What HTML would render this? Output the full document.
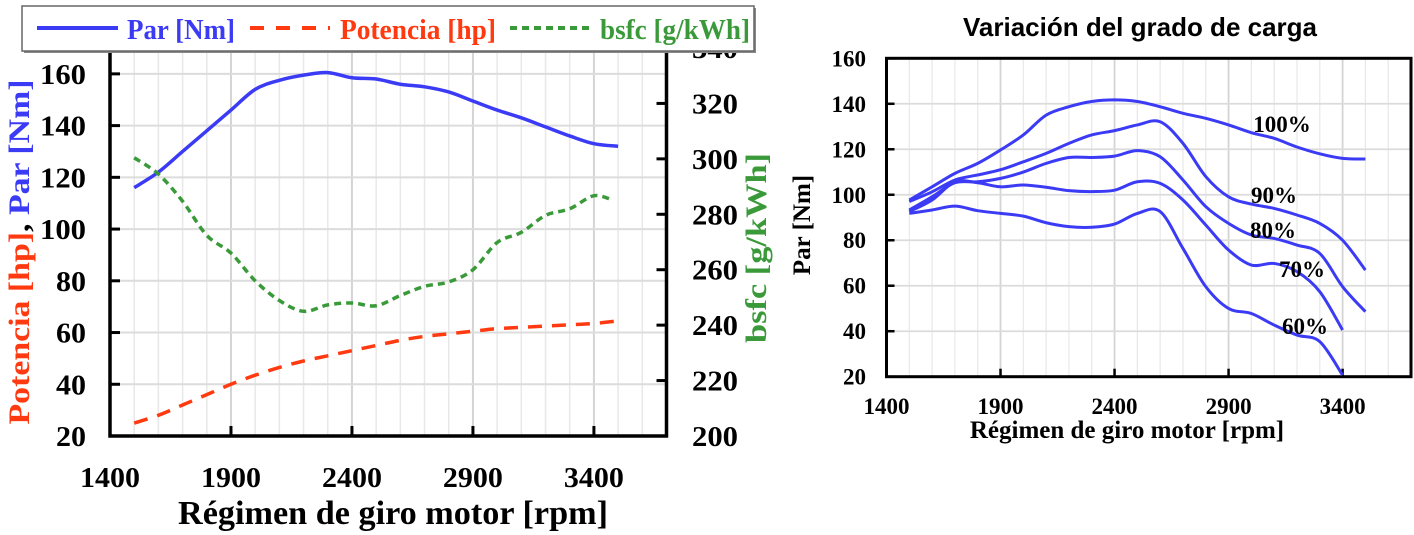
<!DOCTYPE html>
<html><head><meta charset="utf-8"><style>
body{margin:0;background:#fff;}
svg{display:block;}
text{font-family:"Liberation Serif",serif;font-weight:bold;}
</style></head><body>
<svg id="svg" width="1414" height="535" viewBox="0 0 1414 535"></svg>
<script>
// Left chart data
const rpmL = [1500,1600,1700,1800,1900,2000,2100,2200,2300,2400,2500,2600,2700,2800,2900,3000,3100,3200,3300,3400,3500];
const parL = [116,122,130,138,146,154,157.5,159.5,160.5,158.5,158,156,155,153,149.5,146,143,139.5,136,133,132];
const potL = [25,28,32,36,40,43.5,46.5,49,51,53,55,57,58.5,59.5,60.5,61.5,62,62.5,63,63.5,64.5];
const rpmB = [1500,1600,1700,1800,1900,2000,2100,2200,2300,2400,2500,2600,2700,2800,2900,3000,3100,3200,3300,3400,3480];
const bsfcL = [300.4,294.5,284.7,272.4,266,256,248.9,245,247.3,248,247,250.7,254,255.6,260,269.8,273.5,279.6,282,286.7,285];
const xTicksL = [1400,1900,2400,2900,3400];
const yTicksL = [20,40,60,80,100,120,140,160];
const y2TicksL = [200,220,240,260,280,300,320,340];
// Right chart data
const rpmR = [1500,1600,1700,1800,1900,2000,2100,2200,2300,2400,2500,2600,2700,2800,2900,3000,3100,3200,3300,3400,3500];
const c100 = [97.7,103.5,109.4,113.8,119.7,126.3,135,138.7,141,141.7,141,138.7,135.8,133.6,130.7,127.3,124.8,121,118,116,115.7];
const c90 = [97,101.3,106.5,108.7,111,114.5,118.2,122.6,126.3,128.2,130.7,132.1,122.6,108,99.1,95.9,94,91.1,87.4,80,66.9];
const c80 = [93.3,99.1,105.3,105.7,107.2,110,113.8,116.4,116.4,117,119.4,116.7,106.5,94.8,87.4,82.3,80.8,77.9,74.2,59.6,48.6];
const c70 = [92.6,97.7,105.7,105.3,103.5,104.3,103.3,101.8,101.4,102,105.7,105,97.7,86.7,75.7,69.1,69.8,66.2,57.4,40.5];
const c60 = [91.8,93.3,95,93,91.8,90.6,87.7,86,85.7,87.1,91.8,92.6,76.4,59.6,50,47.8,42.7,38.3,35.4,20.7];
const loadLabels = ['100%','90%','80%','70%','60%'];
const xTicksR = [1400,1900,2400,2900,3400];
const yTicksR = [20,40,60,80,100,120,140,160];

const NS='http://www.w3.org/2000/svg';
const svg=document.getElementById('svg');
function mk(tag,attrs,parent){const e=document.createElementNS(NS,tag);for(const k in attrs)e.setAttribute(k,attrs[k]);(parent||svg).appendChild(e);return e;}
function smooth(pts){let d='M'+pts[0][0]+','+pts[0][1];for(let i=0;i<pts.length-1;i++){const p0=pts[i-1]||pts[i],p1=pts[i],p2=pts[i+1],p3=pts[i+2]||p2;const c1=[p1[0]+(p2[0]-p0[0])/6,p1[1]+(p2[1]-p0[1])/6],c2=[p2[0]-(p3[0]-p1[0])/6,p2[1]-(p3[1]-p1[1])/6];d+=' C'+c1+' '+c2+' '+p2;}return d;}

// ===== Left chart =====
const L={x0:110,x1:666.5,y0:436,y1:48};
const lx=r=>L.x0+(r-1400)/2300*(L.x1-L.x0);
const ly=v=>L.y0-(v-20)/150*(L.y0-L.y1);
const ly2=v=>L.y0-(v-200)/140*(L.y0-L.y1);
for(let r=1500;r<3700;r+=100){const l=mk('line',{x1:lx(r),x2:lx(r),y1:L.y1,y2:L.y0,stroke:(r%500==400)?'#d4d4d4':'#e8e8e8','stroke-width':(r%500==400)?2:1.5});
}
yTicksL.forEach(v=>{const l=mk('line',{x1:L.x0,x2:L.x1,y1:ly(v),y2:ly(v),stroke:'#dcdcdc','stroke-width':2});

const t=mk('text',{x:86,y:ly(v)+10,'text-anchor':'end','font-size':28,textLength:46,lengthAdjust:'spacingAndGlyphs'});t.textContent=v;
if(v<100){t.setAttribute('textLength',30);}

mk('line',{x1:L.x0,x2:L.x0+10,y1:ly(v),y2:ly(v),stroke:'#000','stroke-width':3});});
y2TicksL.forEach(v=>{const t=mk('text',{x:692,y:ly2(v)+10,'font-size':28,textLength:46,lengthAdjust:'spacingAndGlyphs'});t.textContent=v;

mk('line',{x1:L.x1-10,x2:L.x1,y1:ly2(v),y2:ly2(v),stroke:'#000','stroke-width':3});});
xTicksL.forEach(v=>{const t=mk('text',{x:lx(v),y:487,'text-anchor':'middle','font-size':28,textLength:60,lengthAdjust:'spacingAndGlyphs'});t.textContent=v;

mk('line',{x1:lx(v),x2:lx(v),y1:L.y0-10,y2:L.y0,stroke:'#000','stroke-width':3});});
mk('path',{d:`M${L.x0},${L.y1} V${L.y0} H${L.x1} V${L.y1}`,fill:'none',stroke:'#000','stroke-width':3.5,});
let p=mk('path',{d:smooth(rpmL.map((r,i)=>[lx(r),ly(parL[i])])),fill:'none',stroke:'#3b3bf5','stroke-width':3.5});

p=mk('path',{d:smooth(rpmL.map((r,i)=>[lx(r),ly(potL[i])])),fill:'none',stroke:'#ff3a10','stroke-width':3.5,'stroke-dasharray':'14,10'});

p=mk('path',{d:smooth(rpmB.map((r,i)=>[lx(r),ly2(bsfcL[i])])),fill:'none',stroke:'#3a9a3a','stroke-width':3.5,'stroke-dasharray':'7,5'});

// legend
mk('rect',{x:24,y:8,width:732,height:45,fill:'#888',});
mk('rect',{x:22,y:6,width:732,height:45,fill:'#fff',stroke:'#666','stroke-width':1.5,});
mk('line',{x1:37,x2:118,y1:28,y2:28,stroke:'#3b3bf5','stroke-width':4});
mk('text',{x:127,y:39,'font-size':28,fill:'#3b3bf5',textLength:108,lengthAdjust:'spacingAndGlyphs',}).textContent='Par [Nm]';
mk('line',{x1:250,x2:330,y1:28,y2:28,stroke:'#ff3a10','stroke-width':4,'stroke-dasharray':'14,12'});
mk('text',{x:340,y:39,'font-size':28,fill:'#ff3a10',textLength:156,lengthAdjust:'spacingAndGlyphs',}).textContent='Potencia [hp]';
mk('line',{x1:510,x2:592,y1:28,y2:28,stroke:'#3a9a3a','stroke-width':4,'stroke-dasharray':'7,5'});
mk('text',{x:600,y:39,'font-size':28,fill:'#3a9a3a',textLength:150,lengthAdjust:'spacingAndGlyphs',}).textContent='bsfc [g/kWh]';
// titles
mk('text',{x:393,y:524,'text-anchor':'middle','font-size':34,textLength:430,lengthAdjust:'spacingAndGlyphs',}).textContent='Régimen de giro motor [rpm]';
const yt=mk('text',{x:0,y:0,'text-anchor':'middle','font-size':30,textLength:345,lengthAdjust:'spacingAndGlyphs',transform:'translate(29,252) rotate(-90)',});
const s1=mk('tspan',{fill:'#ff3a10'},yt);s1.textContent='Potencia [hp]';
const s2=mk('tspan',{fill:'#000'},yt);s2.textContent=', ';
const s3=mk('tspan',{fill:'#3b3bf5'},yt);s3.textContent='Par [Nm]';
mk('text',{x:0,y:0,'text-anchor':'middle','font-size':30,fill:'#3a9a3a',textLength:190,lengthAdjust:'spacingAndGlyphs',transform:'translate(766,248) rotate(-90)',}).textContent='bsfc [g/kWh]';

// ===== Right chart =====
const R={x0:886.5,x1:1411,y0:376.7,y1:58.3};
const rx=r=>R.x0+(r-1400)/2300*(R.x1-R.x0);
const ry=v=>R.y0-(v-20)/140*(R.y0-R.y1);
for(let r=1500;r<3700;r+=100){const l=mk('line',{x1:rx(r),x2:rx(r),y1:R.y1,y2:R.y0,stroke:(r%500==400)?'#d4d4d4':'#e8e8e8','stroke-width':(r%500==400)?1.8:1.2});
}
yTicksR.forEach(v=>{const l=mk('line',{x1:R.x0,x2:R.x1,y1:ry(v),y2:ry(v),stroke:'#dcdcdc','stroke-width':1.8});

const t=mk('text',{x:866,y:ry(v)+8,'text-anchor':'end','font-size':23});t.textContent=v;

mk('line',{x1:R.x0,x2:R.x0+8,y1:ry(v),y2:ry(v),stroke:'#000','stroke-width':2.5});});
xTicksR.forEach(v=>{const t=mk('text',{x:rx(v),y:414,'text-anchor':'middle','font-size':23});t.textContent=v;

mk('line',{x1:rx(v),x2:rx(v),y1:R.y0-8,y2:R.y0,stroke:'#000','stroke-width':2.5});});
mk('rect',{x:R.x0,y:R.y1,width:R.x1-R.x0,height:R.y0-R.y1,fill:'none',stroke:'#000','stroke-width':3,});
const curves=[c100,c90,c80,c70,c60];
const labPos=[[1282,132],[1274,203],[1273,238],[1302,277],[1305,334]];
curves.forEach((c,k)=>{const pp=mk('path',{d:smooth(c.map((v,i)=>[rx(rpmR[i]),ry(v)])),fill:'none',stroke:'#3b3bf5','stroke-width':3});


const t=mk('text',{x:labPos[k][0],y:labPos[k][1],'text-anchor':'middle','font-size':23});t.textContent=loadLabels[k];
});
mk('text',{x:1140,y:36,'text-anchor':'middle','font-size':26,style:'font-family:"Liberation Sans",sans-serif',}).textContent='Variación del grado de carga';
mk('text',{x:1127,y:438,'text-anchor':'middle','font-size':25,}).textContent='Régimen de giro motor [rpm]';
mk('text',{x:0,y:0,'text-anchor':'middle','font-size':25,transform:'translate(810,225) rotate(-90)',}).textContent='Par [Nm]';
</script>
</body></html>
